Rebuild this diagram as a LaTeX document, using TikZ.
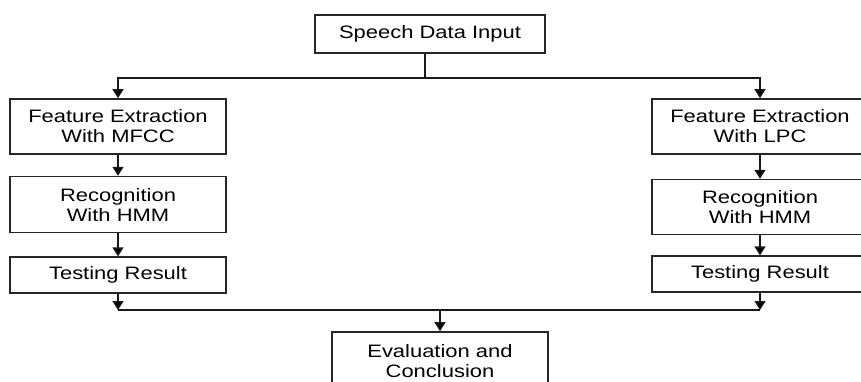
\documentclass[tikz,border=0pt]{standalone}
\usepackage{fontspec}
\setmainfont[FakeStretch=1.22]{Liberation Sans}
\usepackage{tikz}
\usetikzlibrary{arrows.meta,positioning,calc}
\tikzset{
box/.style={draw=black!85, line width=1.6pt, fill=white, align=center, minimum width=216pt, inner sep=2pt}, % every process step
flow/.style={line width=1.4pt, draw=black!90}, % connectors between steps
>={Triangle[width=11pt,length=9pt]}, % filled arrow heads
}

\begin{document}
\begin{tikzpicture}[x=1pt,y=-1pt,node distance=21pt,font=\fontsize{18}{20}\selectfont]
   \useasboundingbox (0,0) rectangle (861,381);
   \clip (0,0) rectangle (861,381);
   \node[box, minimum width=230pt, minimum height=38pt] (speech) at (430,34) {Speech Data Input};
   % left branch
   \node[box, minimum height=55pt] (featL) at (118,126.5) {Feature Extraction\\With MFCC};
   \node[box, minimum height=56pt] (recL) [below=of featL] {Recognition\\With HMM};
   \node[box, minimum height=36pt] (testL) [below=23pt of recL] {Testing Result};
   % right branch
   \node[box, minimum height=55pt] (featR) at (760,126.5) {Feature Extraction\\With LPC};
   \node[box, minimum height=55pt] (recR) [below=24pt of featR] {Recognition\\With HMM};
   \node[box, minimum height=36pt] (testR) [below=20pt of recR] {Testing Result};
   \node[box, minimum height=59pt] (eval) at (440,361.5) {Evaluation and\\Conclusion};
   \coordinate (fork) at (425,78);
   \coordinate (merge) at (440,310);
    \path[flow]
    (speech.south -| fork) edge (fork)
    (fork) edge[->, to path={-| (\tikztotarget)}] (featL)
    (fork) edge[->, to path={-| (\tikztotarget)}] (featR)
    (featL) edge[->] (recL)
    (recL) edge[->] (testL)
    (featR) edge[->] (recR)
    (recR) edge[->] (testR)
    (testL) edge[->] (testL |- merge)
    (testR) edge[->] (testR |- merge)
    (testL |- merge) edge (testR |- merge)
    (merge) edge[->] (eval);
\end{tikzpicture}
\end{document}
